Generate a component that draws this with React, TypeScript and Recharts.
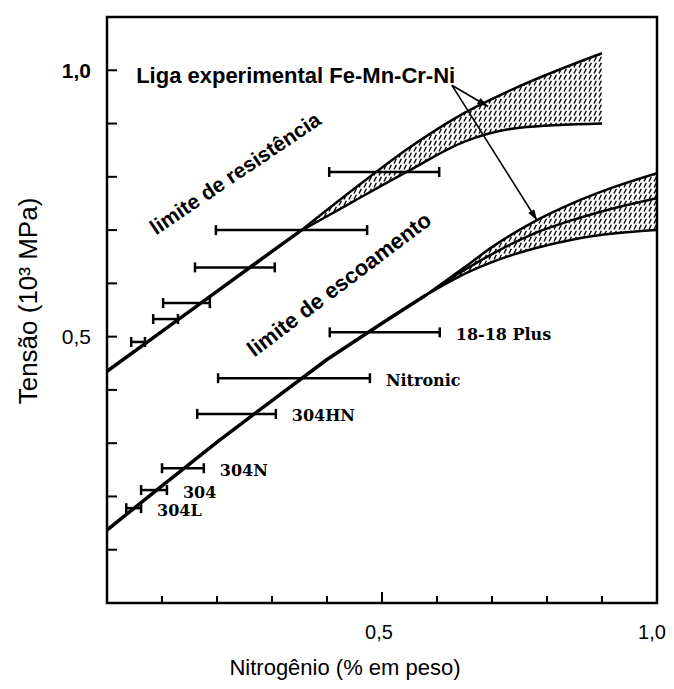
import React from 'react';
import { ComposedChart, Line, Area, Scatter, ErrorBar, XAxis, YAxis, ReferenceArea } from 'recharts';

const X_TICKS = [0.1, 0.2, 0.3, 0.4, 0.5, 0.6, 0.7, 0.8, 0.9, 1.0];
const Y_TICKS = [0.1, 0.2, 0.3, 0.4, 0.5, 0.6, 0.7, 0.8, 0.9, 1.0];
const LABELED = [0.5, 1.0];

// limite de resistência (aços comerciais)
const resistX = [0, 0.1, 0.2, 0.3, 0.35];
const resistY = [0.435, 0.51, 0.585, 0.66, 0.697];
// faixa da liga experimental - resistência
const resistBandX = [0.35, 0.45, 0.55, 0.65, 0.75, 0.9];
const resistBandLo = [0.697, 0.755, 0.812, 0.866, 0.892, 0.9];
const resistBandHi = [0.697, 0.778, 0.855, 0.92, 0.97, 1.032];

// limite de escoamento
const yieldX = [0, 0.1, 0.2, 0.3, 0.4, 0.5, 0.58];
const yieldY = [0.137, 0.22, 0.302, 0.38, 0.457, 0.525, 0.578];
// faixas da liga experimental - escoamento
const yieldBandX = [0.58, 0.65, 0.7, 0.775, 0.85, 0.925, 1.0];
const yieldBandLo = [0.578, 0.618, 0.64, 0.665, 0.683, 0.694, 0.7];
const yieldBandMid = [0.578, 0.625, 0.655, 0.693, 0.72, 0.742, 0.76];
const yieldBandHi = [0.578, 0.63, 0.668, 0.715, 0.752, 0.782, 0.807];

// faixas de N sobre o limite de resistência
const resistBarLo = [0.404, 0.198, 0.16, 0.102, 0.084, 0.044];
const resistBarHi = [0.604, 0.473, 0.305, 0.187, 0.129, 0.069];
const resistBarY = [0.809, 0.7, 0.63, 0.563, 0.533, 0.49];

// aços comerciais sobre o limite de escoamento
const steelNames = ['18-18 Plus', 'Nitronic', '304HN', '304N', '304', '304L'];
const steelLo = [0.405, 0.202, 0.164, 0.1, 0.062, 0.035];
const steelHi = [0.605, 0.478, 0.307, 0.176, 0.109, 0.062];
const steelY = [0.508, 0.422, 0.355, 0.253, 0.212, 0.178];

// anotações
const ligaAt = { x: 0.053, y: 0.976 };
const resistLabelAt = { x: 0.233, y: 0.807 };
const yieldLabelAt = { x: 0.422, y: 0.598 };
const arrowFrom = { x: 0.627, y: 0.972 };
const arrowTo = [{ x: 0.693, y: 0.932 }, { x: 0.782, y: 0.718 }];

const SANS = '"Liberation Sans", Arial, sans-serif';
const SERIF = '"DejaVu Serif", serif';
const Y_MARGIN = 12;
const X_MARGIN = 29;

const zip = (xs: number[], ys: number[]) => xs.map((x, i) => ({ x, y: ys[i] }));
const band = (xs: number[], lo: number[], hi: number[]) => xs.map((x, i) => ({ x, band: [lo[i], hi[i]] }));
const bars = (lo: number[], hi: number[], ys: number[]) =>
  lo.map((l, i) => {
    const c = (l + hi[i]) / 2;
    return { x: c, y: ys[i], err: [c - l, hi[i] - c] };
  });
const fmt = (v: number) => v.toFixed(1).replace('.', ',');

const YTick = (props: any) => {
  const { x, y, payload } = props;
  const ax = x + Y_MARGIN;
  const v = payload.value;
  return (
    <g>
      <line x1={ax} x2={ax + 10} y1={y} y2={y} stroke="#000" strokeWidth={2} />
      {LABELED.includes(v) && (
        <text x={x - 4} y={y} textAnchor="end" dominantBaseline="central" fontFamily={SANS} fontSize={21}
          fontWeight={v === 1 ? 'bold' : 'normal'} fill="#000">{fmt(v)}</text>
      )}
    </g>
  );
};

const XTick = (props: any) => {
  const { x, y, payload } = props;
  const ay = y - X_MARGIN;
  const v = payload.value;
  return (
    <g>
      {v < 1 && <line x1={x} x2={x} y1={ay} y2={ay - (v === 0.5 ? 11 : 7)} stroke="#000" strokeWidth={2} />}
      {LABELED.includes(v) && (
        <text x={v === 1 ? x - 5 : x - 3} y={y} textAnchor="middle" dominantBaseline="central" fontFamily={SANS}
          fontSize={20} fill="#000">{fmt(v)}</text>
      )}
    </g>
  );
};

const arrowDot = (props: any) => {
  const { cx, cy, index, points } = props;
  if (index === 0 || !points || points.length < 2) return <g key={`a${index}`} />;
  const p0 = points[0];
  const a = Math.atan2(cy - p0.y, cx - p0.x);
  const bx = cx - 11 * Math.cos(a);
  const by = cy - 11 * Math.sin(a);
  const w = 3.5;
  const pts = [
    [cx, cy],
    [bx + w * Math.sin(a), by - w * Math.cos(a)],
    [bx - w * Math.sin(a), by + w * Math.cos(a)],
  ];
  return <polygon key={`a${index}`} points={pts.map((p) => p.join(',')).join(' ')} fill="#000" />;
};

const noShape = () => <g />;

export default function App() {
  const resistLine = zip(resistX, resistY);
  const yieldLine = zip(yieldX, yieldY);
  const steelLabels = steelNames.map((name, i) => ({ x: steelHi[i], y: steelY[i], name }));

  return (
    <ComposedChart width={666} height={675} margin={{ top: 9, right: 17, left: 0, bottom: 0 }}>
      <defs>
        <pattern id="hatch" width="5" height="6" patternUnits="userSpaceOnUse">
          <line x1="1" y1="5.5" x2="3.4" y2="0.8" stroke="#000" strokeWidth="1.4" />
        </pattern>
      </defs>
      <XAxis
        type="number"
        dataKey="x"
        domain={[0, 1]}
        ticks={X_TICKS}
        interval={0}
        allowDataOverflow
        height={80}
        tickSize={0}
        tickMargin={X_MARGIN}
        tickLine={false}
        axisLine={false}
        tick={XTick}
        label={(p: any) => {
          const vb = p.viewBox;
          return (
            <text x={vb.x + vb.width / 2 - 37} y={vb.y + 64} textAnchor="middle" dominantBaseline="central"
              fontFamily={SANS} fontSize={22} fill="#000">Nitrogênio (% em peso)</text>
          );
        }}
      />
      <YAxis
        type="number"
        dataKey="y"
        domain={[0, 1.1]}
        ticks={Y_TICKS}
        interval={0}
        allowDataOverflow
        width={99}
        tickSize={0}
        tickMargin={Y_MARGIN}
        tickLine={false}
        axisLine={false}
        tick={YTick}
        label={(p: any) => {
          const vb = p.viewBox;
          const cx = vb.x + 20;
          const cy = vb.y + vb.height / 2 - 9;
          return (
            <text x={cx} y={cy} transform={`rotate(-90 ${cx} ${cy})`} textAnchor="middle" dominantBaseline="central"
              fontFamily={SANS} fontSize={26} fill="#000">Tensão (10³ MPa)</text>
          );
        }}
      />
      <ReferenceArea x1={0} x2={1} y1={0} y2={1.1} fill="none" stroke="#000" strokeWidth={2.5} />

      <Area data={band(resistBandX, resistBandLo, resistBandHi)} dataKey="band" type="monotone"
        fill="url(#hatch)" fillOpacity={1} stroke="none" isAnimationActive={false} />
      <Area data={band(yieldBandX, yieldBandLo, yieldBandMid)} dataKey="band" type="monotone"
        fill="url(#hatch)" fillOpacity={1} stroke="none" isAnimationActive={false} />
      <Area data={band(yieldBandX, yieldBandMid, yieldBandHi)} dataKey="band" type="monotone"
        fill="url(#hatch)" fillOpacity={1} stroke="none" isAnimationActive={false} />

      <Line data={resistLine} dataKey="y" type="linear" stroke="#000" strokeWidth={3.5} dot={false} activeDot={false} isAnimationActive={false} />
      <Line data={zip(resistBandX, resistBandLo)} dataKey="y" type="monotone" stroke="#000" strokeWidth={2.5} dot={false} activeDot={false} isAnimationActive={false} />
      <Line data={zip(resistBandX, resistBandHi)} dataKey="y" type="monotone" stroke="#000" strokeWidth={2.5} dot={false} activeDot={false} isAnimationActive={false} />

      <Line data={yieldLine} dataKey="y" type="linear" stroke="#000" strokeWidth={3.5} dot={false} activeDot={false} isAnimationActive={false} />
      <Line data={zip(yieldBandX, yieldBandLo)} dataKey="y" type="monotone" stroke="#000" strokeWidth={2.5} dot={false} activeDot={false} isAnimationActive={false} />
      <Line data={zip(yieldBandX, yieldBandMid)} dataKey="y" type="monotone" stroke="#000" strokeWidth={2.5} dot={false} activeDot={false} isAnimationActive={false} />
      <Line data={zip(yieldBandX, yieldBandHi)} dataKey="y" type="monotone" stroke="#000" strokeWidth={2.5} dot={false} activeDot={false} isAnimationActive={false} />

      {arrowTo.map((to, i) => (
        <Line key={`arrow${i}`} data={[arrowFrom, to]} dataKey="y" type="linear" stroke="#000" strokeWidth={1.6}
          dot={arrowDot} activeDot={false} isAnimationActive={false} />
      ))}

      <Scatter data={bars(resistBarLo, resistBarHi, resistBarY)} shape={noShape} isAnimationActive={false}>
        <ErrorBar dataKey="err" direction="x" width={5} stroke="#000" strokeWidth={2.5} isAnimationActive={false} />
      </Scatter>
      <Scatter data={bars(steelLo, steelHi, steelY)} shape={noShape} isAnimationActive={false}>
        <ErrorBar dataKey="err" direction="x" width={5} stroke="#000" strokeWidth={2.5} isAnimationActive={false} />
      </Scatter>

      <Scatter data={steelLabels} isAnimationActive={false}
        shape={(p: any) => (
          <text x={p.cx + 16} y={p.cy + 2} dominantBaseline="central" fontFamily={SERIF} fontWeight="bold"
            fontSize={16} fill="#000">{p.payload.name}</text>
        )} />
      <Scatter data={[ligaAt]} isAnimationActive={false}
        shape={(p: any) => (
          <text x={p.cx} y={p.cy} fontFamily={SANS} fontWeight="bold" fontSize={22} fill="#000">Liga experimental Fe-Mn-Cr-Ni</text>
        )} />
      <Scatter data={[resistLabelAt]} isAnimationActive={false}
        shape={(p: any) => (
          <text x={p.cx} y={p.cy} transform={`rotate(-34 ${p.cx} ${p.cy})`} textAnchor="middle" dominantBaseline="central"
            fontFamily={SANS} fontWeight="bold" fontSize={21} fill="#000">limite de resistência</text>
        )} />
      <Scatter data={[yieldLabelAt]} isAnimationActive={false}
        shape={(p: any) => (
          <text x={p.cx} y={p.cy} transform={`rotate(-37 ${p.cx} ${p.cy})`} textAnchor="middle" dominantBaseline="central"
            fontFamily={SANS} fontWeight="bold" fontSize={22} fill="#000">limite de escoamento</text>
        )} />
    </ComposedChart>
  );
}
